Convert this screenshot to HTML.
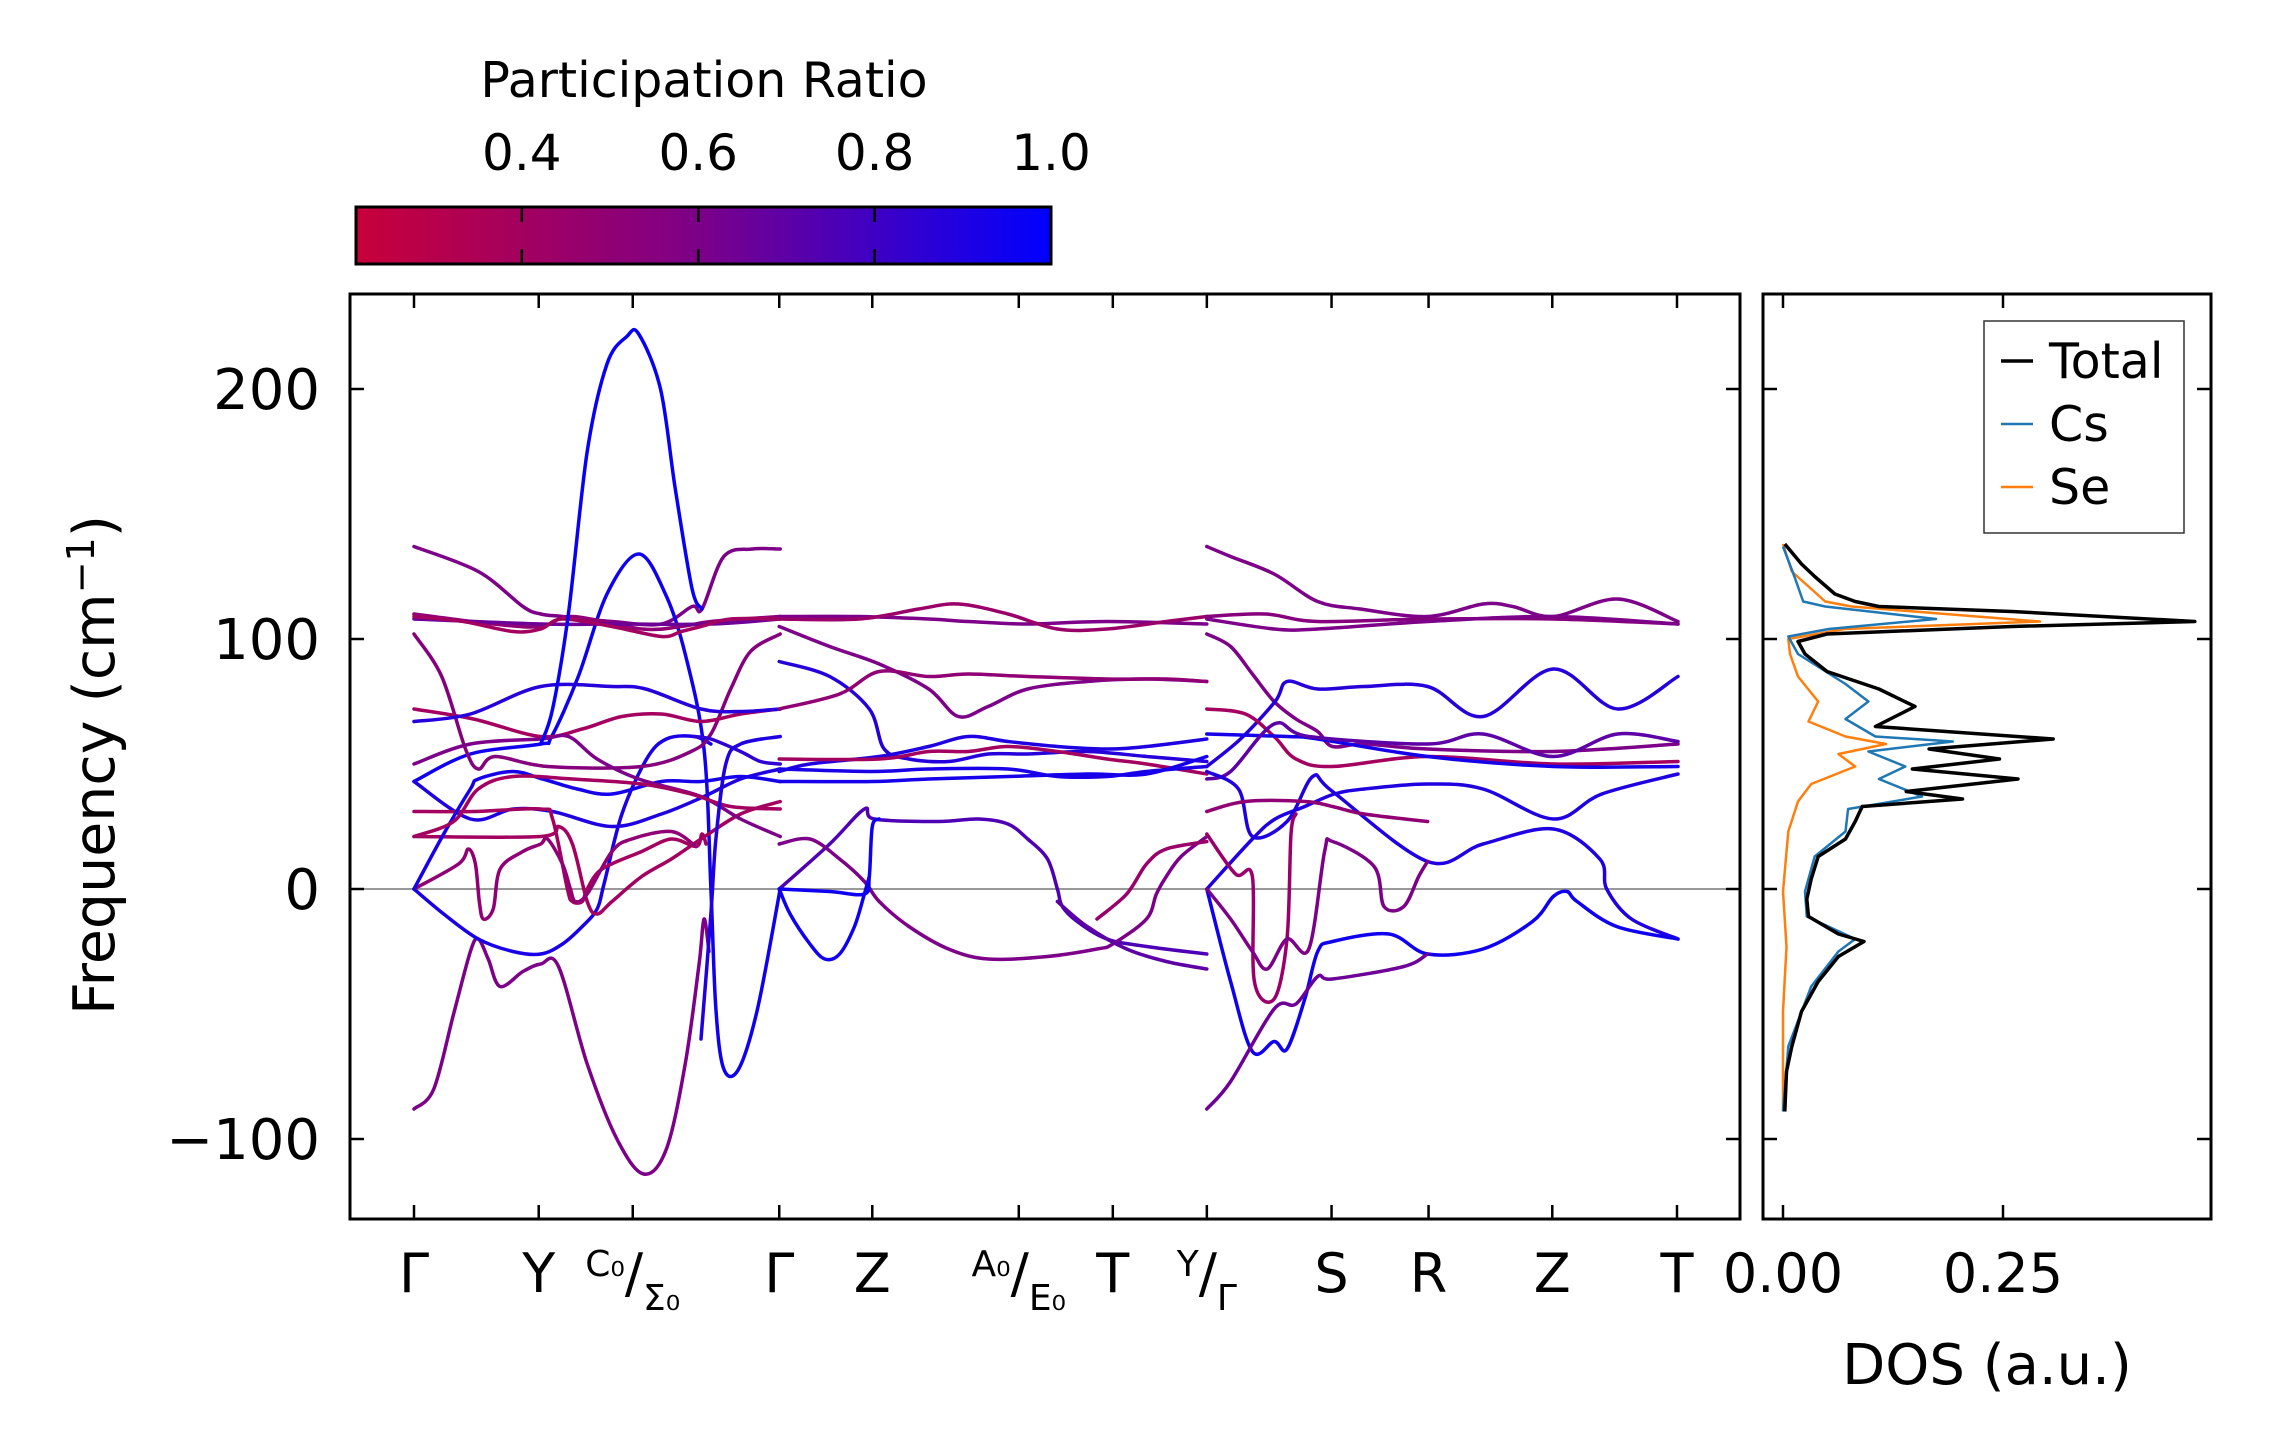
<!DOCTYPE html>
<html><head><meta charset="utf-8"><style>
html,body{margin:0;padding:0;background:#fff;}
svg{display:block;font-family:"DejaVu Sans","Liberation Sans",sans-serif;}
</style></head><body>
<svg id="fig" width="2271" height="1455" viewBox="0 0 2271 1455" xmlns="http://www.w3.org/2000/svg">
<defs><linearGradient id="cbg" x1="0" x2="1" y1="0" y2="0">
<stop offset="0" stop-color="#c8003a"/><stop offset="0.49" stop-color="#7d0087"/><stop offset="1" stop-color="#0000ff"/></linearGradient>
<clipPath id="mainclip"><rect x="350" y="294" width="1390" height="925"/></clipPath>
<clipPath id="dosclip"><rect x="1763" y="294" width="448" height="925"/></clipPath></defs>
<g id="colorbar">
<text x="704" y="97" font-size="49" text-anchor="middle">Participation Ratio</text>
<rect x="356" y="207" width="695" height="57" fill="url(#cbg)" stroke="#000" stroke-width="3"/>
</g>
<g id="main"></g>
<g id="dos"></g>
</svg>
<script>
// ---- data ----
const kTicks=[0,126,221,369,463,611,706,801,927,1025,1150,1276];
const kLabels=["Γ","Y","C0|Σ0","Γ","Z","A0|E0","T","Y|Γ","S","R","Z","T"];
const yTicks=[200,100,0,-100];
const cbTicks=[0.4,0.6,0.8,1.0];
const segA=[
[[0,137],[65,127],[110,113],[128,110],[150,109],[200,107],[250,106],[281,113],[291,112],[313,133],[342,136],[370,136]],
[[0,43],[57,54],[128,58],[139,61],[166,85],[195,118],[227,134],[254,118],[274,94],[293,56],[300,0],[305,-48],[313,-72],[328,-72],[347,-48],[370,0]],
[[0,-88],[20,-80],[40,-50],[57,-25],[65,-20],[75,-28],[87,-39],[110,-33],[128,-30],[146,-31],[175,-70],[205,-100],[232,-114],[255,-104],[274,-70],[288,-30],[293,-12],[298,-25]],
[[0,0],[30,-10],[65,-20],[100,-25],[128,-26],[150,-22],[170,-15],[185,-8],[192,2],[210,30],[235,52],[255,60],[283,61],[300,58]],
[[0,102],[28,85],[52,56],[65,48],[82,53],[135,49],[230,49],[280,55],[300,62],[320,80],[340,95],[370,102]],
[[0,72],[60,68],[128,61],[170,64],[210,69],[250,70],[290,67],[330,70],[370,72]],
[[0,67],[57,70],[128,81],[200,81],[234,80],[290,72],[330,71],[370,72]],
[[0,110],[80,106],[128,105],[160,109],[230,104],[270,105],[300,107],[370,109]],
[[0,108],[128,106],[200,106],[300,106],[370,108]],
[[0,109],[50,107],[100,103],[128,104],[150,108],[200,105],[250,101],[270,103],[290,105],[320,108],[370,108]],
[[0,43],[57,28],[100,32],[140,31],[200,25],[250,30],[293,37],[330,44],[370,48]],
[[0,31],[60,31],[128,32],[140,28],[155,0],[160,-5],[170,-5],[175,0],[190,8],[230,15],[260,20],[285,17],[291,22],[295,18]],
[[0,21],[128,21],[146,25],[160,18],[175,-5],[185,-10],[200,-5],[230,5],[260,12],[290,20],[330,30],[370,35]],
[[0,0],[45,10],[55,16],[62,10],[66,-5],[70,-12],[80,-8],[87,8],[110,15],[128,18],[135,20],[150,10],[158,0],[163,-5],[175,-2],[200,15],[220,20],[260,23],[285,17]],
[[0,0],[30,22],[57,40],[65,44],[100,47],[130,44],[165,40],[200,38],[250,43],[290,43],[330,45],[370,43]],
[[0,50],[57,58],[128,60],[156,61],[185,52],[227,44],[290,37],[330,28],[370,21]],
[[0,21],[40,27],[65,40],[100,45],[160,44],[230,42],[280,38],[320,33],[370,32]],
[[283,61],[300,60],[330,55],[350,51],[370,50]],
[[290,-60],[300,-10],[305,20],[315,50],[330,58],[370,61]],
[[128,58],[140,72],[156,110],[175,175],[195,210],[215,221],[227,222],[249,200],[264,160],[281,120],[291,112]]
];
const prA=[0.6,0.95,0.6,0.92,0.55,0.4,0.88,0.5,0.65,0.4,0.9,0.4,0.4,0.5,0.93,0.6,0.4,0.85,0.9,0.97];
const segB=[
[[369,109],[450,109],[520,108],[560,107],[620,106],[700,107],[801,106]],
[[369,108],[450,108],[510,112],[550,114],[600,110],[650,104],[700,104],[760,107],[801,109]],
[[369,105],[420,97],[470,90],[520,80],[550,69],[580,73],[620,80],[680,83],[740,84],[801,83]],
[[369,91],[420,85],[460,72],[475,56],[500,52],[540,51],[580,54],[620,54],[680,55],[740,53],[801,51]],
[[369,72],[430,78],[470,87],[520,85],[560,86],[620,85],[700,84],[760,84],[801,83]],
[[369,47],[400,50],[470,53],[520,57],[560,61],[600,59],[650,57],[700,56],[740,57],[801,60]],
[[369,52],[470,52],[520,55],[560,55],[600,57],[650,55],[700,52],[740,50],[801,46]],
[[369,48],[463,47],[520,48],[600,48],[650,45],[700,45],[740,47],[801,49]],
[[369,43],[463,43],[520,44],[600,45],[680,46],[740,46],[801,53]],
[[369,0],[420,18],[455,32],[465,28],[530,27],[570,28],[600,26],[620,20],[640,12],[650,0],[655,-7],[670,-13],[700,-20],[740,-23],[801,-26]],
[[369,18],[400,20],[430,12],[455,3],[470,-5],[500,-15],[540,-24],[580,-28],[640,-27],[690,-24],[706,-22],[740,-12],[750,-2],[760,5],[775,13],[801,21]],
[[369,0],[420,-1],[455,-2],[460,5],[463,25],[470,28]],
[[369,0],[380,-10],[400,-22],[415,-28],[430,-26],[445,-15],[455,-2],[460,5]],
[[650,-5],[680,-15],[720,-24],[760,-29],[801,-32]],
[[690,-12],[720,-2],[740,10],[760,16],[801,19]]
];
const prB=[0.6,0.45,0.6,0.88,0.5,0.9,0.4,0.92,0.93,0.75,0.6,0.95,0.95,0.7,0.45];
const segC=[
[[801,137],[825,133],[869,126],[913,115],[956,112],[1024,109],[1080,114],[1110,113],[1151,109],[1216,116],[1277,107]],
[[801,109],[860,110],[913,107],[1024,108],[1151,108],[1277,106]],
[[801,108],[869,104],[913,104],[1024,107],[1151,109],[1277,106]],
[[801,102],[825,97],[847,86],[869,75],[891,68],[913,63],[928,57],[960,58],[1024,56],[1151,55],[1277,58]],
[[801,49],[835,60],[870,75],[882,83],[913,80],[960,81],[1024,81],[1080,69],[1151,88],[1216,72],[1277,85]],
[[801,72],[840,70],[869,61],[891,52],[928,49],[1024,53],[1151,50],[1277,51]],
[[801,62],[882,61],[913,60],[1024,53],[1151,49],[1277,49]],
[[801,44],[825,47],[869,66],[904,61],[1024,58],[1080,62],[1151,53],[1216,62],[1277,59]],
[[801,47],[833,40],[847,21],[882,27],[908,45],[928,39],[1024,11],[1080,18],[1151,24],[1198,12],[1205,0],[1230,-12],[1277,-20]],
[[801,0],[847,20],[870,28],[900,33],[930,38],[960,40],[1024,42],[1080,40],[1151,28],[1200,38],[1277,46]],
[[801,31],[840,35],[900,35],[928,33],[960,30],[1024,27]],
[[801,0],[825,-37],[847,-65],[869,-61],[882,-64],[900,-44],[913,-25],[928,-21],[985,-18],[1024,-26],[1080,-24],[1130,-13],[1151,-3],[1165,-1],[1175,-5],[1215,-15],[1277,-20]],
[[801,-88],[825,-77],[869,-48],[891,-46],[913,-35],[928,-36],[1000,-31],[1024,-26]],
[[801,22],[830,6],[847,5],[849,-37],[869,-44],[882,-20],[886,22],[891,30]],
[[801,0],[825,-12],[847,-25],[862,-32],[882,-20],[904,-24],[920,15],[928,19],[970,9],[980,-7],[1000,-7],[1015,5],[1024,11]]
];
const prC=[0.6,0.55,0.6,0.6,0.88,0.4,0.93,0.7,0.9,0.9,0.5,0.95,0.65,0.45,0.6];
// DOS data: frequency (cm-1) and density (a.u.)
const dosTotF=[138,130,125,118,115,113,111,107,105,102,99,94,87,80,73,65,60,56,52,48,44,39,36,33,27,20,13,4,-4,-11,-18,-21,-27,-37,-49,-63,-73,-89];
const dosTotV=[0.002,0.021,0.036,0.059,0.082,0.109,0.26,0.468,0.26,0.05,0.017,0.025,0.05,0.109,0.15,0.105,0.307,0.166,0.246,0.147,0.267,0.14,0.204,0.09,0.082,0.071,0.04,0.032,0.027,0.029,0.063,0.092,0.063,0.04,0.021,0.01,0.004,0.002];
const dosCsF=[137,125,115,113,108,104,101,94,82,75,68,61,59,55,49,44,37,32,23,13,-1,-11,-20,-25,-39,-63,-89];
const dosCsV=[0.0,0.013,0.023,0.048,0.174,0.052,0.006,0.017,0.071,0.097,0.071,0.105,0.193,0.097,0.139,0.109,0.158,0.074,0.071,0.036,0.025,0.027,0.082,0.063,0.032,0.006,0.0];
const dosSeF=[138,127,115,113,107,104,100,94,85,75,67,61,58,54,49,42,35,23,-1,-23,-49,-89];
const dosSeV=[0.0,0.01,0.048,0.078,0.292,0.07,0.006,0.008,0.017,0.04,0.029,0.071,0.117,0.063,0.082,0.032,0.017,0.006,0.0,0.004,0.0,0.0];
const dosTicks=[0,0.25];
const legendNames=["Total","Cs","Se"];
const legendColors=["#000000","#1f77b4","#ff7f0e"];
// ---- scales ----
const NS="http://www.w3.org/2000/svg";
const X0=350,X1=1740,Y0=294,Y1=1219;
function xScale(k){return 414+k*(1677-414)/1276;}
function yScale(f){return 889-f*2.5;}
function dScale(v){return 1783+v*880;}
function mk(tag,attrs,parent){const e=document.createElementNS(NS,tag);for(const a in attrs)e.setAttribute(a,attrs[a]);parent.appendChild(e);return e;}
function prColor(p){
  const t=Math.max(0,Math.min(1,(p-0.21)/0.79));
  let r,g=0,b;
  if(t<0.49){const u=t/0.49;r=200+(125-200)*u;b=58+(135-58)*u;}else{const u=(t-0.49)/0.51;r=125*(1-u);b=135+(255-135)*u;}
  return `rgb(${Math.round(r)},${g},${Math.round(b)})`;
}
function smoothPath(pts){
  let d=`M${pts[0][0].toFixed(1)},${pts[0][1].toFixed(1)}`;
  for(let i=0;i<pts.length-1;i++){
    const p0=pts[Math.max(0,i-1)],p1=pts[i],p2=pts[i+1],p3=pts[Math.min(pts.length-1,i+2)];
    const c1=[p1[0]+(p2[0]-p0[0])/6,p1[1]+(p2[1]-p0[1])/6];
    const c2=[p2[0]-(p3[0]-p1[0])/6,p2[1]-(p3[1]-p1[1])/6];
    d+=` C${c1[0].toFixed(1)},${c1[1].toFixed(1)} ${c2[0].toFixed(1)},${c2[1].toFixed(1)} ${p2[0].toFixed(1)},${p2[1].toFixed(1)}`;
  }
  return d;
}
const main=document.getElementById('main');
const zl=mk('line',{x1:X0,x2:X1,y1:yScale(0),y2:yScale(0),stroke:'#999',"stroke-width":2},main);


const bandsG=mk('g',{"clip-path":"url(#mainclip)"},main);


[[segA,prA],[segB,prB],[segC,prC]].forEach(([seg,pr],si)=>{
  seg.forEach((curve,ci)=>{
    const pts=curve.map(p=>[xScale(p[0]),yScale(p[1])]);
    const e=mk('path',{d:smoothPath(pts),fill:'none',stroke:prColor(pr[ci]),"stroke-width":3.5,"stroke-linejoin":"round","stroke-linecap":"round"},bandsG);
    
    
  });
});
const fr=mk('rect',{x:X0,y:Y0,width:X1-X0,height:Y1-Y0,fill:'none',stroke:'#000',"stroke-width":3},main);


kTicks.forEach((k,i)=>{
  const x=xScale(k);
  mk('line',{x1:x,x2:x,y1:Y1,y2:Y1-14,stroke:'#000',"stroke-width":2.5},main);
  mk('line',{x1:x,x2:x,y1:Y0,y2:Y0+14,stroke:'#000',"stroke-width":2.5},main);
  const lab=kLabels[i];
  const t=mk('text',{x:x,y:1292,"font-size":54,"text-anchor":"middle"},main);
  
  
  if(lab.includes('|')){
    const [a,b]=lab.split('|');
    const s1=document.createElementNS(NS,'tspan');s1.setAttribute('font-size','36');s1.setAttribute('dy','-16');s1.textContent=a.replace('0','₀');t.appendChild(s1);
    const s2=document.createElementNS(NS,'tspan');s2.setAttribute('font-size','54');s2.setAttribute('dy','16');s2.textContent='/';t.appendChild(s2);
    const s3=document.createElementNS(NS,'tspan');s3.setAttribute('font-size','36');s3.setAttribute('dy','18');s3.textContent=b.replace('0','₀');t.appendChild(s3);
  } else t.textContent=lab;
});
yTicks.forEach(v=>{
  const y=yScale(v);
  mk('line',{x1:X0,x2:X0+14,y1:y,y2:y,stroke:'#000',"stroke-width":2.5},main);
  mk('line',{x1:X1,x2:X1-14,y1:y,y2:y,stroke:'#000',"stroke-width":2.5},main);
  const t=mk('text',{x:320,y:y+20,"font-size":56,"text-anchor":"end"},main);
  
  
  t.textContent=v<0?'−'+Math.abs(v):String(v);
});
const yl=mk('text',{x:0,y:0,"font-size":57,"text-anchor":"middle",transform:"translate(114,765) rotate(-90)"},main);


yl.innerHTML='Frequency (cm<tspan dy="-20" font-size="38">−1</tspan><tspan dy="20">)</tspan>';
const cb=document.getElementById('colorbar');
cbTicks.forEach(v=>{
  const x=356+(v-0.212)/(1-0.212)*695;
  if(v<1){mk('line',{x1:x,x2:x,y1:207,y2:222,stroke:'#000',"stroke-width":2.5},cb);
  mk('line',{x1:x,x2:x,y1:249,y2:264,stroke:'#000',"stroke-width":2.5},cb);}
  const t=mk('text',{x:x,y:170,"font-size":50,"text-anchor":"middle"},cb);
  
  
  t.textContent=v.toFixed(1);
});
const dos=document.getElementById('dos');
const D0=1763,D1=2211;
const dl=mk('g',{"clip-path":"url(#dosclip)"},dos);
[[dosSeF,dosSeV,legendColors[2],'dos-se-line',2.5],[dosCsF,dosCsV,legendColors[1],'dos-cs-line',2.5],[dosTotF,dosTotV,legendColors[0],'dos-total-line',3.5]].forEach(([F,V,c,n,w])=>{
  const pts=F.map((f,i)=>[dScale(V[i]),yScale(f)]);
  const e=mk('path',{d:'M'+pts.map(p=>p[0].toFixed(1)+','+p[1].toFixed(1)).join(' L'),fill:'none',stroke:c,"stroke-width":w,"stroke-linejoin":"round"},dl);
  
  
});
const dfr=mk('rect',{x:D0,y:Y0,width:D1-D0,height:Y1-Y0,fill:'none',stroke:'#000',"stroke-width":3},dos);


yTicks.forEach(v=>{const y=yScale(v);
  mk('line',{x1:D0,x2:D0+14,y1:y,y2:y,stroke:'#000',"stroke-width":2.5},dos);
  mk('line',{x1:D1,x2:D1-14,y1:y,y2:y,stroke:'#000',"stroke-width":2.5},dos);});
dosTicks.forEach(v=>{const x=dScale(v);
  mk('line',{x1:x,x2:x,y1:Y1,y2:Y1-14,stroke:'#000',"stroke-width":2.5},dos);
  mk('line',{x1:x,x2:x,y1:Y0,y2:Y0+14,stroke:'#000',"stroke-width":2.5},dos);
  const t=mk('text',{x:x,y:1292,"font-size":54,"text-anchor":"middle"},dos);
  
  
  t.textContent=v.toFixed(2);});
const dt=mk('text',{x:1987,y:1384,"font-size":56,"text-anchor":"middle"},dos);


dt.textContent='DOS (a.u.)';
const lg=mk('g',{},dos);


mk('rect',{x:1984,y:321,width:200,height:212,fill:'#fff',stroke:'#333',"stroke-width":1.5},lg);
legendNames.forEach((n,i)=>{const y=361+i*63;
  const ln=mk('line',{x1:2001,x2:2033,y1:y,y2:y,stroke:legendColors[i],"stroke-width":i==0?3.5:2.5},lg);
  
  
  const t=mk('text',{x:2049,y:y+17,"font-size":49},lg);
  
  
  t.textContent=n;});
</script>
</body></html>
